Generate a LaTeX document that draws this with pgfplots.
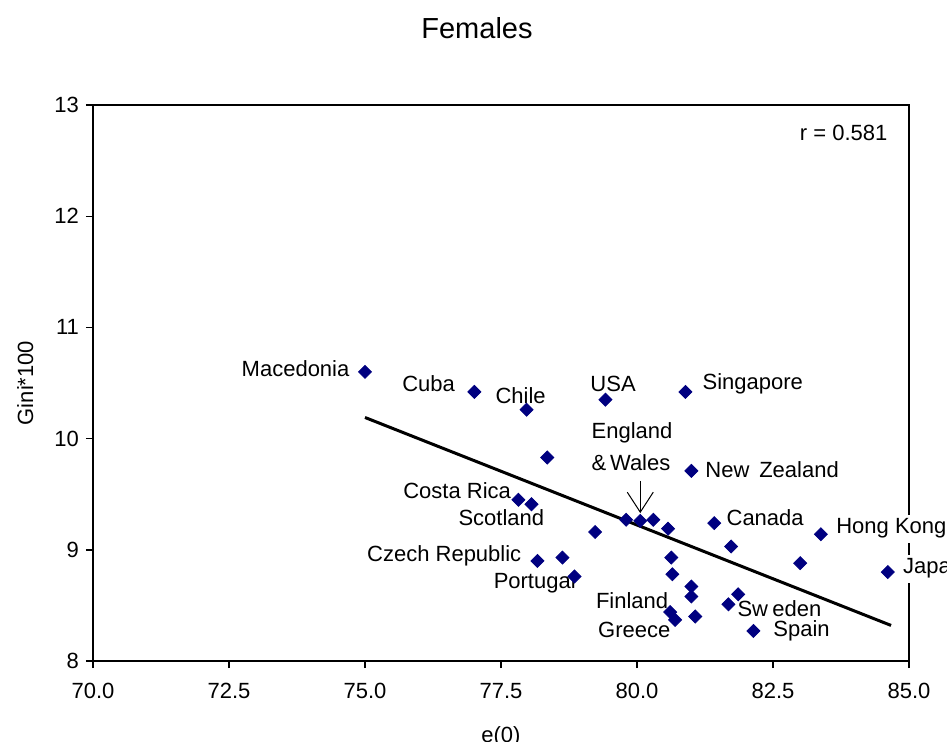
\documentclass[border=0pt]{standalone}
\usepackage{fontspec}
\setmainfont{Liberation Sans}
\usepackage{pgfplots}
\pgfplotsset{compat=1.18}
\usetikzlibrary{arrows.meta}
\definecolor{mknavy}{RGB}{0,0,128}
\newcommand{\lblfont}{\fontsize{11}{13.2}\selectfont}
\begin{document}
\begin{tikzpicture}
\path[use as bounding box] (-46.5pt,-40pt) rectangle (427pt,330.5pt);
\clip (-46.5pt,-40pt) rectangle (427pt,330.5pt);
\begin{axis}[
  scale only axis,
  width=408pt, height=278pt,
  xmin=70, xmax=85, ymin=8, ymax=13,
  xtick={70,72.5,75,77.5,80,82.5,85},
  ytick={8,9,10,11,12,13},
  xtick pos=left, ytick pos=left,
  tick align=outside,
  major tick length=3.5pt,
  axis line style={black, line width=0.7pt},
  every tick/.style={black, line width=0.7pt},
  /pgf/number format/assume math mode=true,
  xticklabel style={font=\lblfont, yshift=-4pt, /pgf/number format/.cd, fixed, fixed zerofill, precision=1},
  yticklabel style={font=\lblfont},
  xlabel={e(0)},
  ylabel={Gini*100},
  xlabel style={at={(axis description cs:0.5,-0.137)}, anchor=center, font=\lblfont},
  ylabel style={at={(axis description cs:-0.083,0.5)}, anchor=center, font=\lblfont},
  clip=false,
]
\addplot[only marks, mark=square*, mark size=2.3pt, mark options={rotate=45, fill=mknavy, draw=mknavy}] table {
x y
75.00 10.60
77.01 10.42
77.97 10.26
79.42 10.35
80.89 10.42
78.35 9.83
81.00 9.71
77.82 9.45
78.06 9.41
78.17 8.90
78.63 8.93
78.85 8.76
79.23 9.16
79.80 9.27
80.06 9.26
80.30 9.27
80.57 9.19
81.42 9.24
81.73 9.03
80.63 8.93
80.65 8.78
81.00 8.67
81.00 8.58
80.61 8.44
80.70 8.37
81.07 8.40
81.86 8.60
81.68 8.51
82.14 8.27
83.00 8.88
83.38 9.14
84.61 8.80
};
\addplot[black, line width=1.5pt] coordinates {(75,10.19) (84.67,8.32)};
\draw[-{Straight Barb[length=10pt,width=13pt]}, line width=0.5pt] (axis cs:80.06,9.62) -- (axis cs:80.06,9.33);
\begin{scope}[every node/.style={font=\lblfont, inner sep=0pt}]
\node[anchor=east] at (axis cs:84.61,12.75) {r = 0.581};
\node[anchor=east] at (axis cs:74.72,10.63) {Macedonia};
\node[anchor=east] at (axis cs:76.66,10.49) {Cuba};
\node[anchor=center] at (axis cs:77.86,10.39) {Chile};
\node[anchor=center] at (axis cs:79.56,10.49) {USA};
\node[anchor=west] at (axis cs:81.20,10.49) {Singapore};
\node[anchor=west] at (axis cs:79.16,10.05) {England};
\node[anchor=west] at (axis cs:79.16,9.78) {\&\,Wales};
\node[anchor=west] at (axis cs:81.25,9.72) {New\hspace{0.45em}Zealand};
\node[anchor=east] at (axis cs:77.69,9.53) {Costa Rica};
\node[anchor=east] at (axis cs:78.30,9.29) {Scotland};
\node[anchor=west] at (axis cs:81.64,9.29) {Canada};
\node[anchor=west, fill=white, inner xsep=1pt, inner ysep=2pt] at (axis cs:83.62,9.19) {Hong Kong};
\node[anchor=west, fill=white, inner xsep=1pt, inner ysep=2pt] at (axis cs:84.85,8.83) {Japan};
\node[anchor=east] at (axis cs:77.88,8.95) {Czech Republic};
\node[anchor=center] at (axis cs:78.12,8.70) {Portugal};
\node[anchor=center] at (axis cs:79.91,8.54) {Finland};
\node[anchor=center] at (axis cs:79.95,8.28) {Greece};
\node[anchor=west] at (axis cs:81.84,8.47) {Sw\hspace{0.2em}eden};
\node[anchor=west] at (axis cs:82.50,8.27) {Spain};
\end{scope}
\end{axis}
\node[font=\fontsize{14.5}{17}\selectfont] at (192pt,316.5pt) {Females};
\end{tikzpicture}
\end{document}
